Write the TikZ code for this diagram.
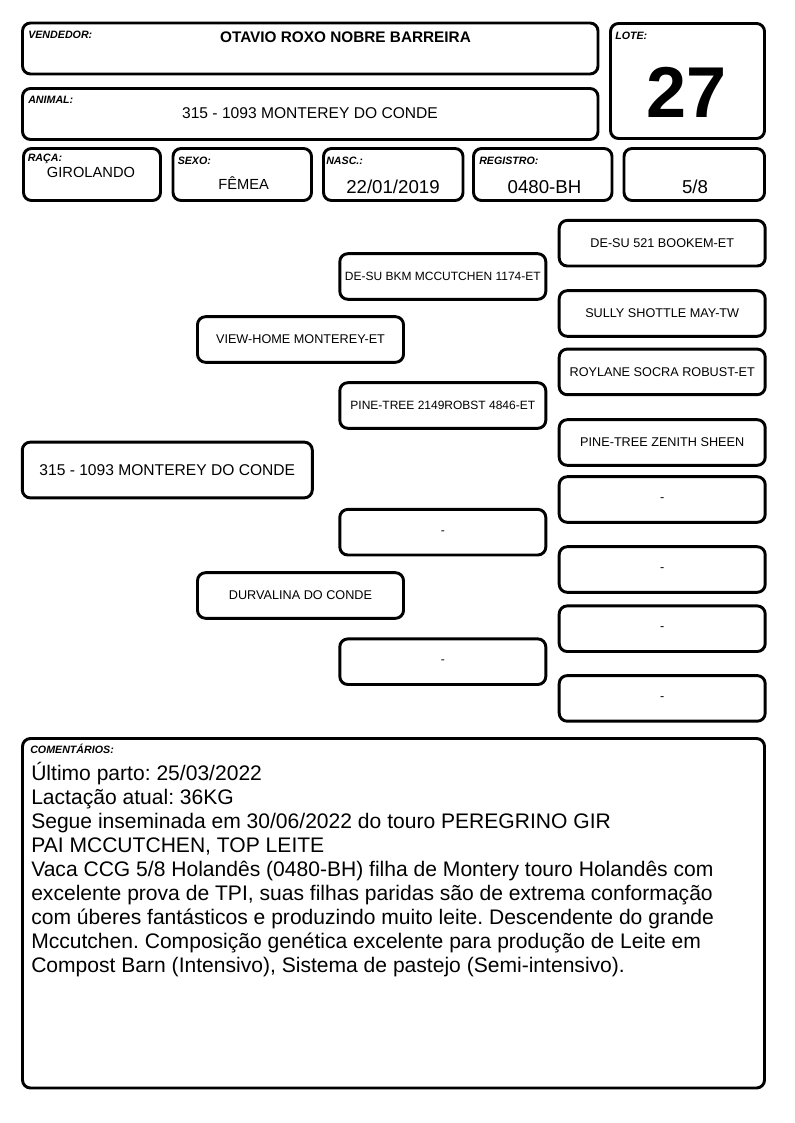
\documentclass[tikz,border=0pt]{standalone}
\usepackage{fontspec}
\setmainfont{Liberation Sans}
\usetikzlibrary{positioning}
\frenchspacing

\tikzset{
	campo/.style={draw, line width=2.2pt, rounded corners=6pt},
	rotulo/.style={anchor=west, inner sep=0pt, font=\bfseries\itshape\fontsize{8}{9}\selectfont},
	valor/.style={anchor=base, inner sep=0pt, font=\fontsize{11.7}{13}\selectfont},
	caixa/.style={draw, line width=2.2pt, rounded corners=6pt, minimum width=154.5pt, minimum height=34.2pt, inner sep=0pt, font=\fontsize{9.5}{11}\selectfont},
	caixameio/.style={caixa, font=\fontsize{9}{11}\selectfont},
}

\begin{document}
\begin{tikzpicture}[line cap=round,line join=round,x=0.75pt,y=-0.75pt]
			\useasboundingbox (0,0) rectangle (794,1123);
			% cabecalho
			\draw [campo] (22.5,23) rectangle (598,74);
			\draw [campo] (22.5,88.5) rectangle (598,139.5);
			\draw [campo] (610.5,23.5) rectangle (764.5,138.5);
			\draw [campo] (23.5,148.5) rectangle (160.5,200.5);
			\draw [campo] (173,148.5) rectangle (311.5,200.5);
			\draw [campo] (323.5,148.5) rectangle (463,200.5);
			\draw [campo] (473.5,148.5) rectangle (612,200.5);
			\draw [campo] (624,148.5) rectangle (764.5,200.5);
			\node [rotulo] (rotVendedor) at (28,35) {VENDEDOR:};
			\node [rotulo] (rotAnimal) at (28,100) {ANIMAL:};
			\node [rotulo] (rotLote) at (615,36) {LOTE:};
			\node [rotulo] (rotRaca) at (27.5,159) {RAÇA:};
			\node [rotulo] (rotSexo) at (177.5,161) {SEXO:};
			\node [rotulo] (rotNasc) at (326,161) {NASC.:};
			\node [rotulo] (rotRegistro) at (479,161) {REGISTRO:};
			\node [valor, font=\bfseries\fontsize{11.5}{13}\selectfont] (vendedor) at (345.5,42.5) {OTAVIO ROXO NOBRE BARREIRA};
			\node [valor] (nomeAnimal) at (310,118.5) {315 - 1093 MONTEREY DO CONDE};
			\node [valor, font=\bfseries\fontsize{54}{60}\selectfont] (lote) at (687,117.7) {27};
			\node [valor, font=\fontsize{11}{13}\selectfont] (raca) at (91,177.7) {GIROLANDO};
			\node [valor, font=\fontsize{11}{13}\selectfont] (sexo) at (243.7,189.3) {FÊMEA};
			\node [valor, font=\fontsize{14}{16}\selectfont] (nasc) at (393,193.3) {22/01/2019};
			\node [valor, font=\fontsize{14}{16}\selectfont] (registro) at (544.5,193.3) {0480-BH};
			\node [valor, font=\fontsize{14}{16}\selectfont] (grau) at (695,193.3) {5/8};
			% genealogia
			\node [caixa, minimum width=217.5pt, minimum height=41.8pt, font=\fontsize{11.7}{13}\selectfont] (animal) at (167.3,470) {315 - 1093 MONTEREY DO CONDE};
			\node [caixa] (pai) at (300.5,339.5) {VIEW-HOME MONTEREY-ET};
			\node [caixa] (mae) at (300.5,595.5) {DURVALINA DO CONDE};
			\node [caixameio] (pp) at (442.8,276.5) {DE-SU BKM MCCUTCHEN 1174-ET};
			\node [caixameio] (pm) at (442.8,405.5) {PINE-TREE 2149ROBST 4846-ET};
			\node [caixameio] (mp) at (442.8,532.2) {-};
			\node [caixameio] (mm) at (442.8,661.7) {-};
			\node [caixa] (ppp) at (662.2,243.2) {DE-SU 521 BOOKEM-ET};
			\node [caixa] (ppm) at (662.2,313.5) {SULLY SHOTTLE MAY-TW};
			\node [caixa] (pmp) at (662.2,371.9) {ROYLANE SOCRA ROBUST-ET};
			\node [caixa] (pmm) at (662.2,442.5) {PINE-TREE ZENITH SHEEN};
			\node [caixa] (mpp) at (662.2,499.5) {-};
			\node [caixa] (mpm) at (662.2,569.5) {-};
			\node [caixa] (mmp) at (662.2,628.7) {-};
			\node [caixa] (mmm) at (662.2,698.4) {-};
			% comentarios
			\draw [campo] (22.5,738.5) rectangle (764.5,1088);
			\node [rotulo] (rotComentarios) at (30,749.3) {COMENTÁRIOS:};
			\node [anchor=north west, inner sep=0pt, align=left, font=\fontsize{15.8}{18}\selectfont] (comentarios) at (31,762) {Último parto: 25/03/2022\\
				Lactação atual: 36KG\\
				Segue inseminada em 30/06/2022 do touro PEREGRINO GIR\\
				PAI MCCUTCHEN, TOP LEITE\\
				Vaca CCG 5/8 Holandês (0480-BH) filha de Montery touro Holandês com\\
				excelente prova de TPI, suas filhas paridas são de extrema conformação\\
				com úberes fantásticos e produzindo muito leite. Descendente do grande\\
				Mccutchen. Composição genética excelente para produção de Leite em\\
				Compost Barn (Intensivo), Sistema de pastejo (Semi-intensivo).};
			\end{tikzpicture}
\end{document}
